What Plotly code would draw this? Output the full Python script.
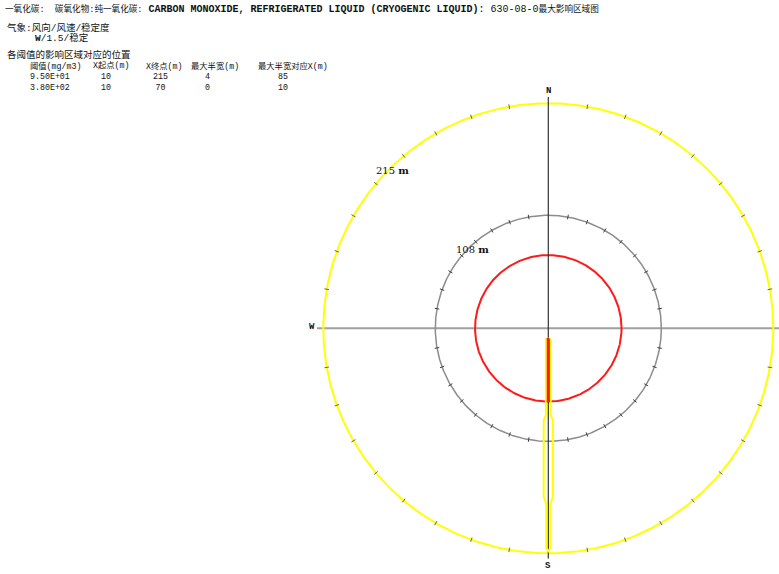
import numpy as np
import plotly.graph_objects as go

# ---------------- data ----------------
title_parts = [
    ("cjk", "一氧化碳:  碳氧化物:纯一氧化碳:"),
    ("latin", " CARBON MONOXIDE, REFRIGERATED LIQUID (CRYOGENIC LIQUID)"),
    ("plain", ": 630-08-0"),
    ("cjk", "最大影响区域图"),
]
weather_label = "气象:风向/风速/稳定度"
weather_value = "W/1.5/稳定"
table_title = "各阈值的影响区域对应的位置"
table_header = ["阈值(mg/m3)", "X起点(m)", "X终点(m)", "最大半宽(m)", "最大半宽对应X(m)"]
thresholds = ["9.50E+01", "3.80E+02"]
x_start = [10, 10]
x_end = [215, 70]
max_half_width = [4, 0]
x_at_max_width = [85, 10]
zone_colors = ["#ffff00", "#ff1a1a"]

ref_ring_radius = 108      # gray reference ring (m)
tick_step_deg = 10

# plume outline (downwind distance m, half width m), threshold 1 (yellow)
plume1_dist = [10, 83, 88, 161, 168, 210, 213]
plume1_hw = [2.3, 2.3, 4.4, 4.4, 1.9, 1.9, 0.0]
# threshold 2 (red)
plume2_dist = [10, 70]
plume2_hw = [0.8, 0.8]

# ---------------- layout geometry ----------------
W, H = 779, 574
cx, cy = 548.3, 328.3
s = 1.0465  # px per metre

def px(x):
    return x / W

def py(y):
    return 1 - y / H

fig = go.Figure()

# horizontal axis line
ext = x_end[0] + 6
fig.add_trace(go.Scatter(x=[-ext, ext], y=[0, 0], mode="lines",
                         line=dict(color="#a0a0a0", width=2), hoverinfo="skip", showlegend=False))

def circle(r, color, width):
    t = np.linspace(0, 2 * np.pi, 721)
    fig.add_trace(go.Scatter(x=r * np.cos(t), y=r * np.sin(t), mode="lines",
                             line=dict(color=color, width=width), hoverinfo="skip", showlegend=False))

def ticks(r, color, half=2.2):
    xs, ys = [], []
    for a in range(0, 360, tick_step_deg):
        if a % 90 == 0:
            continue
        th = np.deg2rad(a)
        for rr in (r - half, r + half):
            xs.append(rr * np.sin(th)); ys.append(rr * np.cos(th))
        xs.append(None); ys.append(None)
    fig.add_trace(go.Scatter(x=xs, y=ys, mode="lines", line=dict(color=color, width=1),
                             hoverinfo="skip", showlegend=False))

circle(x_end[0], zone_colors[0], 2)
ticks(x_end[0], "#606060")
circle(ref_ring_radius, "#8c8c8c", 1.5)
ticks(ref_ring_radius, "#404040")
circle(x_end[1], zone_colors[1], 2)

# vertical axis
fig.add_trace(go.Scatter(x=[0, 0], y=[-ext + 1, ext], mode="lines",
                         line=dict(color="#333333", width=1.2), hoverinfo="skip", showlegend=False))

# plumes (wind from N -> plume toward S)
def plume(dist, hw, color, width, fill=False):
    d = np.array(dist, float); h = np.array(hw, float)
    xs = np.concatenate([h, -h[::-1], [h[0]]])
    ys = np.concatenate([-d, -d[::-1], [-d[0]]])
    fig.add_trace(go.Scatter(x=xs, y=ys, mode="lines", line=dict(color=color, width=width),
                             fill="toself" if fill else None, fillcolor=color,
                             hoverinfo="skip", showlegend=False))

plume(plume1_dist, plume1_hw, zone_colors[0], 2)
plume(plume2_dist, plume2_hw, zone_colors[1], 1.5, fill=True)

# ---------------- text ----------------
mono_cjk = "Liberation Mono, Noto Sans CJK SC"
ann = []

def txt(t, x, y, size=10, anchor="left", color="#111111", family=mono_cjk, yanchor="middle"):
    ann.append(dict(text=t, x=px(x), y=py(y), xref="paper", yref="paper",
                    xanchor=anchor, yanchor=yanchor, showarrow=False, borderpad=0,
                    font=dict(family=family, size=size, color=color)))

title_html = ""
for kind, part in title_parts:
    if kind == "cjk":
        title_html += '<span style="font-size:8.6px">' + part + "</span>"
    elif kind == "latin":
        title_html += "<b>" + part + "</b>"
    else:
        title_html += part
txt(title_html, 4, 9, size=10)
txt(weather_label, 6, 28, size=9.5)
wv = weather_value.split("/")
txt("<b>" + wv[0] + "</b>/" + "/".join(wv[1:]), 34, 38, size=9.5)
txt(table_title, 6, 55, size=9.5)

# table as one multi-line text block per column
col_x = [29, 92, 145, 190, 257]
rows = [[thresholds[i], str(x_start[i]), str(x_end[i]), str(max_half_width[i]), str(x_at_max_width[i])]
        for i in range(len(thresholds))]
val_pad = [0, 8, 7, 14, 20]
for j, (hdr, x) in enumerate(zip(table_header, col_x)):
    lines = [hdr] + ["&nbsp;" * 0 + r[j] for r in rows]
    body = hdr + "<br>" + "<br>".join(
        '<span style="white-space:pre">' + r[j] + "</span>" for r in rows)
    txt(hdr, x, 60.5, size=8.3, yanchor="top")
    vals = "<br>".join(r[j] for r in rows)
    txt(vals, x + val_pad[j], 71, size=8.3, yanchor="top")

# compass labels
txt("<b>N</b>", cx, 91, size=9, anchor="center")
txt("<b>S</b>", cx, 566, size=9, anchor="center")
txt("<b>W</b>", 312, 327, size=9, anchor="center")

# ring labels
txt(f"{x_end[0]} <b>m</b>", 375, 170, size=10, family="DejaVu Serif, Liberation Mono")
txt(f"{ref_ring_radius} <b>m</b>", 455, 249, size=10, family="DejaVu Serif, Liberation Mono")

fig.update_layout(
    width=W, height=H, margin=dict(l=0, r=0, t=0, b=0),
    paper_bgcolor="white", plot_bgcolor="white",
    xaxis=dict(range=[-cx / s, (W - cx) / s], visible=False, fixedrange=True),
    yaxis=dict(range=[-(H - cy) / s, cy / s], visible=False, fixedrange=True),
    annotations=ann, showlegend=False,
)

fig.write_html("out.html")
